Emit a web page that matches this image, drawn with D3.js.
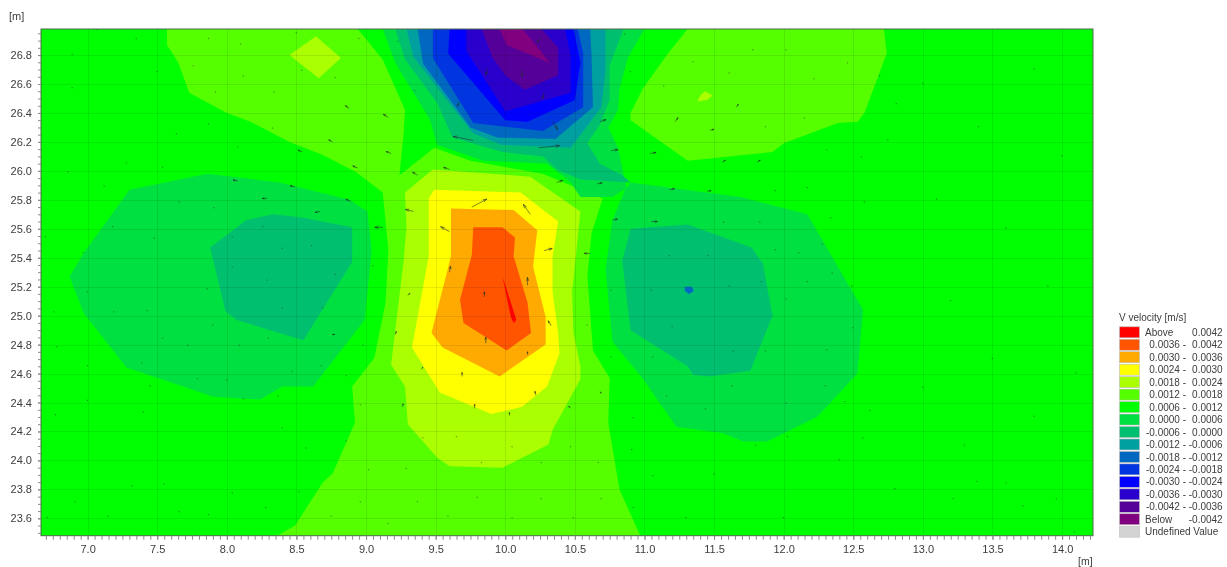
<!DOCTYPE html>
<html>
<head>
<meta charset="utf-8">
<script src="https://cdn.jsdelivr.net/npm/d3@7"></script>
<style>
html,body{margin:0;padding:0;background:#fff;overflow:hidden}
svg{display:block}
text{font-family:"Liberation Sans",Arial,sans-serif;fill:#3c3c3c}
</style>
</head>
<body>
<svg id="chart" width="1227" height="567"></svg>
<script>
// ---- legend ----
const legendTitle = "V velocity [m/s]";
const legendLeft  = ["Above","0.0036 -","0.0030 -","0.0024 -","0.0018 -","0.0012 -","0.0006 -","0.0000 -","-0.0006 -","-0.0012 -","-0.0018 -","-0.0024 -","-0.0030 -","-0.0036 -","-0.0042 -","Below","Undefined Value"];
const legendRight = ["0.0042","0.0042","0.0036","0.0030","0.0024","0.0018","0.0012","0.0006","0.0000","-0.0006","-0.0012","-0.0018","-0.0024","-0.0030","-0.0036","-0.0042",""];
const legendColors = ["#ff0000","#ff5500","#ffaa00","#ffff00","#aaff00","#55ff00","#00ff00","#00e040","#00c070","#00a0a0","#0068c0","#0034e0","#0000ff","#2a00cc","#550099","#800080","#d3d3d3"];

// ---- axis ranges and ticks (metres) ----
const xDomain = [6.665, 14.222];
const yDomain = [23.48, 26.98];
const xLabels = [7,7.5,8,8.5,9,9.5,10,10.5,11,11.5,12,12.5,13,13.5,14];
const yLabels = [23.6,23.8,24,24.2,24.4,24.6,24.8,25,25.2,25.4,25.6,25.8,26,26.2,26.4,26.6,26.8];
const tickStep = 0.05;

// ---- contour regions, vertices in metres: [x, y] ----
const band0012Main = [[7.57,26.98],[8.94,26.98],[9.12,26.77],[9.28,26.42],[9.27,26.26],[9.24,25.97],[9.49,26.16],[9.75,26.07],[10.27,25.98],[10.70,25.81],[10.62,25.57],[10.59,25.27],[10.63,24.76],[10.75,24.57],[10.74,24.26],[10.82,23.80],[10.97,23.48],[8.36,23.48],[8.49,23.55],[8.69,23.85],[8.76,23.91],[8.92,24.26],[8.90,24.51],[9.06,24.71],[9.14,25.09],[9.16,25.45],[9.12,25.85],[8.93,25.99],[8.69,26.11],[8.45,26.20],[8.17,26.34],[8.00,26.40],[7.73,26.54],[7.65,26.75],[7.57,26.87]];
const band0012Right = [[11.31,26.98],[12.72,26.98],[12.74,26.81],[12.58,26.40],[12.53,26.34],[12.39,26.33],[12.00,26.19],[11.92,26.13],[11.31,26.07],[10.90,26.35],[10.90,26.40],[10.99,26.57],[11.16,26.80]];
const band0018Center = [[9.48,26.01],[10.18,25.96],[10.54,25.72],[10.48,25.16],[10.49,24.88],[10.54,24.65],[10.54,24.56],[10.34,24.21],[10.31,24.11],[9.98,23.95],[9.60,23.96],[9.51,24.02],[9.30,24.25],[9.28,24.51],[9.18,24.66],[9.27,25.38],[9.29,25.61],[9.28,25.85]];
const band0018Diamond = [[8.64,26.93],[8.82,26.78],[8.66,26.64],[8.45,26.80]];
const band0018Small = [[11.435,26.55],[11.49,26.52],[11.45,26.49],[11.38,26.48],[11.40,26.52]];
const band0024 = [[9.49,25.87],[10.11,25.85],[10.38,25.65],[10.34,25.41],[10.34,25.16],[10.38,24.88],[10.39,24.74],[10.30,24.51],[10.12,24.37],[9.90,24.32],[9.53,24.47],[9.33,24.78],[9.45,25.41],[9.45,25.81]];
const band0030 = [[9.61,25.74],[10.06,25.73],[10.23,25.59],[10.20,25.34],[10.29,24.99],[10.29,24.80],[9.96,24.58],[9.55,24.78],[9.47,24.88],[9.61,25.41]];
const band0036 = [[9.77,25.61],[9.98,25.61],[10.07,25.54],[10.06,25.41],[10.16,25.09],[10.185,24.88],[10.01,24.76],[9.70,24.95],[9.675,25.11],[9.76,25.42]];
const bandAbove = [[9.98,25.27],[10.08,24.97],[10.06,24.95],[10.04,24.99]];

const band0000Left = [[7.86,25.98],[8.38,25.92],[8.88,25.80],[9.01,25.72],[9.04,25.45],[8.99,24.97],[8.62,24.51],[8.40,24.51],[8.24,24.42],[7.90,24.44],[7.66,24.52],[7.28,24.64],[6.97,25.02],[6.87,25.27],[6.97,25.43],[7.30,25.87]];
const band0000Right = [[10.90,25.92],[11.69,25.82],[12.17,25.70],[12.57,25.04],[12.53,24.60],[12.24,24.30],[11.88,24.13],[11.71,24.13],[11.56,24.19],[11.23,24.23],[10.99,24.56],[10.77,24.82],[10.72,25.32],[10.77,25.66],[10.86,25.87]];
const band0000Top = [[9.12,26.98],[9.21,26.745],[9.34,26.54],[9.46,26.35],[9.51,26.18],[9.84,26.07],[10.30,26.05],[10.47,25.92],[10.54,25.82],[10.77,25.82],[10.87,25.88],[10.81,26.16],[10.74,26.30],[10.81,26.42],[10.82,26.56],[10.88,26.78],[11.00,26.98]];
const bandM0006Left = [[8.14,25.66],[8.33,25.70],[8.53,25.68],[8.90,25.61],[8.90,25.37],[8.55,24.83],[8.07,24.97],[7.99,25.03],[7.88,25.47]];
const bandM0006Right = [[10.90,25.60],[11.31,25.63],[11.77,25.47],[11.85,25.36],[11.92,25.00],[11.76,24.62],[11.47,24.58],[11.35,24.59],[11.31,24.65],[10.90,24.90],[10.84,25.38]];
const bandM0006Top = [[9.21,26.98],[9.28,26.77],[9.51,26.47],[9.62,26.23],[9.98,26.13],[10.27,26.10],[10.37,26.01],[10.54,25.94],[10.90,25.92],[10.84,25.97],[10.68,26.05],[10.59,26.19],[10.68,26.32],[10.75,26.49],[10.75,26.73],[10.85,26.98]];
const bandM0012 = [[9.29,26.98],[9.34,26.79],[9.62,26.44],[9.77,26.26],[9.97,26.18],[10.47,26.16],[10.69,26.44],[10.72,26.70],[10.72,26.98]];
const bandM0018 = [[9.37,26.98],[9.41,26.74],[9.75,26.30],[9.94,26.23],[10.36,26.22],[10.63,26.44],[10.62,26.79],[10.61,26.98]];
const bandM0018Spot = [[11.29,25.20],[11.34,25.20],[11.355,25.17],[11.32,25.15],[11.29,25.17]];
const bandM0024 = [[9.48,26.98],[9.48,26.78],[9.77,26.33],[10.27,26.275],[10.56,26.44],[10.56,26.81],[10.52,26.98]];
const bandM0030 = [[9.60,26.98],[9.59,26.81],[10.00,26.35],[10.16,26.34],[10.50,26.49],[10.54,26.75],[10.49,26.98]];
const bandM0036 = [[9.72,26.98],[9.72,26.83],[10.00,26.41],[10.47,26.54],[10.47,26.80],[10.43,26.98]];
const bandM0042 = [[9.83,26.98],[9.91,26.78],[10.00,26.66],[10.14,26.56],[10.38,26.66],[10.38,26.85],[10.26,26.98]];
const bandBelow = [[9.96,26.98],[10.01,26.87],[10.32,26.745],[10.16,26.94],[10.12,26.98]];

// painter's order: [legend index, region]
const regions = [
  [5,band0012Main],[5,band0012Right],[4,band0018Center],[4,band0018Diamond],[4,band0018Small],
  [3,band0024],[2,band0030],[1,band0036],[0,bandAbove],
  [7,band0000Left],[7,band0000Right],[7,band0000Top],
  [8,bandM0006Left],[8,bandM0006Right],[8,bandM0006Top],
  [9,bandM0012],[10,bandM0018],[10,bandM0018Spot],[11,bandM0024],[12,bandM0030],[13,bandM0036],[14,bandM0042],[15,bandBelow]
];

// ---- velocity vectors: [x m, y m, u, v] in mm/s ----
const vectors = [
[9.77,26.21,-5,1],[10.24,26.16,5.25,.5],[10.34,26.34,1.25,-2],[9.67,26.48,-.5,-1.25],[9.87,26.71,-.25,-1.75],[10.12,26.70,0,-1.75],[10.28,26.54,-.5,-1.5],[10.25,26.92,-.75,-1.25],
[9.76,25.75,3.75,2],[10.18,25.70,-1.75,2.5],[9.60,25.58,-2.25,1.25],[9.34,25.72,-2,.5],[9.12,25.61,-2,0],[9.60,25.30,.25,1.5],[10.16,25.21,0,2],[9.85,25.13,0,1.25],[9.86,24.81,0,1.5],[10.28,25.45,2,.5],
[9.37,25.97,-1.25,.75],[9.60,26.01,-1.5,.5],[10.37,25.92,1.5,.5],[10.66,25.91,1.25,.25],[10.68,26.34,1.5,.5],[10.76,26.14,1.75,.25],[11.04,26.12,1.5,.25],[10.33,24.93,-.75,1.25],[10.16,24.73,0,.75],[9.69,24.58,0,1],[9.40,24.63,.25,.5],[9.30,25.14,.5,.5],[9.21,24.87,.25,.75],[10.22,24.45,-.25,1],[9.78,24.36,0,1],[9.26,24.37,.25,.75],[10.47,24.36,-.5,.5],[10.03,24.31,0,.75],[10.69,24.46,-.25,.5],[10.61,25.43,-1.5,0],[10.77,25.66,1.25,.25],[11.05,25.65,1.5,0],
[8.08,25.93,-1.25,.25],[8.49,25.89,-1.25,.25],[8.29,25.81,-1.25,0],[8.89,25.79,-1.25,.5],[8.67,25.72,-1.25,-.25],[8.78,24.87,-.75,0],[8.88,26.43,-1,.75],[9.16,26.37,-1.25,.75],[8.76,26.20,-1,.5],[8.54,26.13,-1,.5],[9.18,26.12,-1.25,.5],[8.94,26.02,-1.25,.5],
[11.18,25.87,1.25,.25],[11.45,25.86,1,.1],[11.22,26.34,.75,1],[11.47,26.28,1,.25],[11.56,26.06,.75,.5],[11.81,26.06,.75,.5],[11.66,26.44,.5,.75]
];
// very small vectors: positions in metres, drawn with one common short vector
const tinyU = -0.08, tinyV = 0.3;
const tinyVectors = [
[7.28,26.05],[7.54,26.02],[6.86,25.99],[7.12,25.89],[7.66,25.78],[7.91,25.74],[7.18,25.61],[6.70,25.54],[7.48,25.53],[8.26,25.61],[8.04,25.54],[8.61,25.48],[8.40,25.46],[6.97,25.43],[9.05,25.34],[8.04,25.33],[8.29,25.24],[8.78,25.28],[7.00,25.16],[7.86,25.18],[7.43,25.03],[7.19,25.02],[6.76,25.02],[8.40,25.05],[8.69,25.05],[7.90,24.93],[7.54,24.84],[8.30,24.84],[6.78,24.78],[7.72,24.79],[8.09,24.79],[8.98,24.79],[7.39,24.67],[7.00,24.65],[8.68,24.65],[8.47,24.61],[8.86,24.58],[7.79,24.56],[8.00,24.55],[7.45,24.51],[8.12,24.42],[7.00,24.41],[8.37,24.44],[8.96,24.38],[7.40,24.33],[6.77,24.31],
[11.94,25.86],[12.17,25.88],[12.58,25.78],[11.57,25.64],[11.83,25.64],[12.34,25.67],[12.28,25.49],[11.18,25.41],[11.46,25.41],[11.94,25.45],[12.11,25.43],[12.35,25.29],[10.76,25.17],[11.05,25.17],[11.61,25.20],[11.84,25.23],[12.17,25.23],[12.49,25.20],[12.02,25.11],[10.59,24.93],[11.20,24.92],[12.50,24.91],[10.76,24.71],[11.06,24.71],[11.64,24.75],[11.87,24.75],[12.31,24.76],[11.16,24.44],[11.63,24.51],[12.30,24.51],[11.44,24.35],[12.02,24.39],[12.44,24.40],[12.62,24.34],[10.92,24.29],[12.03,24.16],[12.57,24.15],
[7.87,26.91],[8.10,26.87],[8.50,26.95],[8.95,26.91],[9.23,26.89],[7.76,26.72],[8.12,26.65],[7.50,26.68],[8.54,26.69],[8.78,26.64],[7.92,26.54],[8.34,26.54],[9.35,26.55],[7.87,26.32],[7.64,26.25],[8.33,26.29],[8.08,26.16],[6.89,26.80],[7.07,26.97],[7.35,26.91],[6.89,26.57],
[10.86,26.94],[11.78,26.83],[12.02,26.83],[11.35,26.75],[11.61,26.67],[12.46,26.74],[12.22,26.63],[12.69,26.65],[11.14,26.58],[10.90,26.68],[12.81,26.46],[12.15,26.36],[11.87,26.30],[12.75,26.21],[12.31,26.14],[12.56,26.09],
[8.40,24.22],[8.86,24.13],[9.41,24.15],[9.65,24.16],[10.05,24.09],[10.47,24.09],[8.57,24.08],[10.91,24.07],[9.02,23.93],[9.29,23.94],[9.83,23.98],[10.26,23.98],[10.67,23.98],[11.06,23.89],[8.52,23.78],[8.96,23.71],[9.37,23.71],[9.80,23.74],[10.26,23.73],[10.69,23.73],[10.92,23.67],[8.75,23.61],[9.16,23.56],[9.59,23.61],[10.05,23.60],[10.49,23.60],
[6.91,23.71],[7.32,23.82],[7.55,23.83],[6.71,23.60],[7.15,23.61],[7.66,23.64],[7.87,23.62],[8.04,23.77],[8.28,23.67],
[13.60,23.84],[13.22,23.73],[13.96,23.73],[13.72,23.68],[14.09,23.50],[13.39,23.85],[13.0,26.6],[13.4,26.3],[13.8,26.7],[14.0,26.1],[13.1,25.8],[13.6,25.6],[13.9,25.2],[13.2,25.1],[13.5,24.7],[13.0,24.5],[13.8,24.3],[13.3,24.1],[14.1,24.6],[11.5,23.9],[12.0,23.6],[12.4,24.0],[12.8,23.8],[11.3,23.6],[11.8,24.1]
];

// ---- layout ----
const plot = {left:41, right:1093, top:29, bottom:535.7};
const x = d3.scaleLinear().domain(xDomain).range([plot.left, plot.right]);
const y = d3.scaleLinear().domain(yDomain).range([plot.bottom, plot.top]);
const vecLen = d3.scaleLinear().domain([0,5]).range([0,20]);

const svg = d3.select("#chart");
const defs = svg.append("defs");
defs.append("clipPath").attr("id","plotClip").append("rect")
  .attr("x",plot.left).attr("y",plot.top)
  .attr("width",plot.right-plot.left).attr("height",plot.bottom-plot.top);
defs.append("filter").attr("id","soft").attr("x","-2%").attr("y","-2%").attr("width","104%").attr("height","104%")
  .append("feGaussianBlur").attr("stdDeviation",0.55);
defs.append("filter").attr("id","softText").attr("x","-5%").attr("y","-5%").attr("width","110%").attr("height","110%")
  .append("feGaussianBlur").attr("stdDeviation",0.3);

const clipped = svg.append("g").attr("clip-path","url(#plotClip)");
const field = clipped.append("g").attr("filter","url(#soft)");
field.append("rect").attr("x",plot.left-5).attr("y",plot.top-5)
  .attr("width",plot.right-plot.left+10).attr("height",plot.bottom-plot.top+10)
  .attr("fill",legendColors[6]);

const outline = d3.line().x(d=>x(d[0])).y(d=>y(d[1])).curve(d3.curveLinearClosed);
field.selectAll("path.region").data(regions).join("path")
  .attr("class","region")
  .attr("d",d=>outline(d[1]))
  .attr("fill",d=>legendColors[d[0]]);

// grid
const grid = clipped.append("g").attr("stroke","#000").attr("stroke-opacity",0.085).attr("stroke-width",1);
grid.selectAll("line.v").data(xLabels).join("line").attr("class","v")
  .attr("x1",d=>Math.round(x(d))+.5).attr("x2",d=>Math.round(x(d))+.5).attr("y1",plot.top).attr("y2",plot.bottom);
grid.selectAll("line.h").data(yLabels).join("line").attr("class","h")
  .attr("y1",d=>Math.round(y(d))+.5).attr("y2",d=>Math.round(y(d))+.5).attr("x1",plot.left).attr("x2",plot.right);

// vectors
function arrowPath(v){
  const x0=x(v[0]), y0=y(v[1]), dx=vecLen(v[2]), dy=-vecLen(v[3]);
  const len=Math.hypot(dx,dy)||1, ux=dx/len, uy=dy/len;
  const x1=x0+dx, y1=y0+dy, h=Math.min(4,len*0.45), w=h*0.32;
  return `M${x0},${y0}L${x1},${y1}M${x1-ux*h-uy*w},${y1-uy*h+ux*w}L${x1},${y1}L${x1-ux*h+uy*w},${y1-uy*h-ux*w}`;
}
const vecG = clipped.append("g").attr("fill","none").attr("stroke","#20302a").attr("filter","url(#softText)");
vecG.selectAll("path.big").data(vectors).join("path").attr("class","big")
  .attr("d",arrowPath).attr("stroke-width",0.8).attr("stroke-opacity",0.7);
vecG.selectAll("path.tiny").data(tinyVectors.map(p=>[p[0],p[1],tinyU,tinyV])).join("path").attr("class","tiny")
  .attr("d",arrowPath).attr("stroke-width",0.8).attr("stroke-opacity",0.4);

// frame
svg.append("rect").attr("x",plot.left).attr("y",plot.top)
  .attr("width",plot.right-plot.left).attr("height",plot.bottom-plot.top)
  .attr("fill","none").attr("stroke","#4c6a4c").attr("stroke-width",1);

// axes
const textLayer = svg.append("g").attr("filter","url(#softText)");
const xMinor = d3.range(Math.ceil(xDomain[0]/tickStep),Math.floor(xDomain[1]/tickStep)+1).map(k=>k*tickStep);
const yMinor = d3.range(Math.ceil(yDomain[0]/tickStep),Math.floor(yDomain[1]/tickStep)+1).map(k=>k*tickStep);
function styleAxis(g){
  g.select(".domain").remove();
  g.selectAll("line").attr("stroke","#8a8a8a");
  g.selectAll("text").attr("font-size",11).attr("fill","#3c3c3c");
}
textLayer.append("g").attr("transform",`translate(0,${plot.bottom})`)
  .call(d3.axisBottom(x).tickValues(xMinor).tickSize(4).tickFormat("")).call(styleAxis);
textLayer.append("g").attr("transform",`translate(0,${plot.bottom})`)
  .call(d3.axisBottom(x).tickValues(xLabels).tickSize(4).tickPadding(6).tickFormat(d3.format(".1f"))).call(styleAxis);
textLayer.append("g").attr("transform",`translate(${plot.left},0)`)
  .call(d3.axisLeft(y).tickValues(yMinor).tickSize(3).tickFormat("")).call(styleAxis);
textLayer.append("g").attr("transform",`translate(${plot.left},0)`)
  .call(d3.axisLeft(y).tickValues(yLabels).tickSize(3).tickPadding(6).tickFormat(d3.format(".1f"))).call(styleAxis);

textLayer.append("text").attr("x",9).attr("y",20).attr("font-size",11).text("[m]");
textLayer.append("text").attr("x",1078).attr("y",565).attr("font-size",10.5).text("[m]");

// legend
const rowY = d3.scalePoint().domain(d3.range(legendColors.length)).range([332.3,531.7]);
const lg = textLayer.append("g").attr("font-size",10);
lg.append("text").attr("x",1119).attr("y",320.5).attr("font-size",10).text(legendTitle);
const rows = lg.selectAll("g.row").data(legendColors).join("g").attr("class","row")
  .attr("transform",(d,i)=>`translate(0,${rowY(i)})`);
rows.append("rect").attr("x",1119.5).attr("y",-5.5).attr("width",20).attr("height",11)
  .attr("fill",d=>d).attr("stroke","#bdbdbd").attr("stroke-width",0.6);
rows.append("text")
  .attr("x",(d,i)=> (i===0||i>=15) ? 1145 : 1186)
  .attr("text-anchor",(d,i)=> (i===0||i>=15) ? "start" : "end")
  .attr("y",3.6).text((d,i)=>legendLeft[i]);
rows.append("text").attr("x",1222.7).attr("text-anchor","end").attr("y",3.6).text((d,i)=>legendRight[i]);
</script>
</body>
</html>
